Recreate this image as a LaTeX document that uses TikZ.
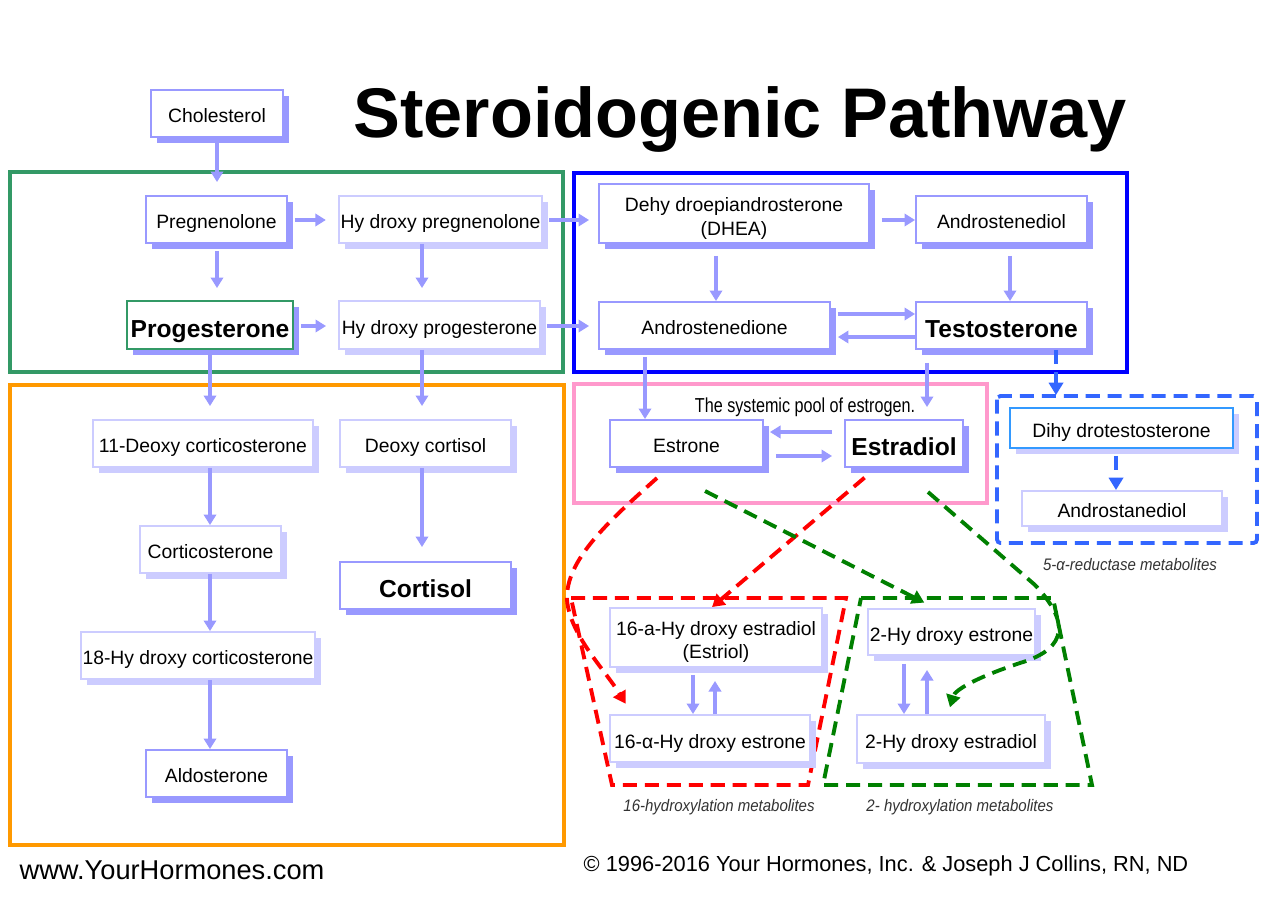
\documentclass[tikz,border=0pt]{standalone}
\usepackage{fontspec}
\usepackage{graphicx}
\setmainfont{Liberation Sans}
\usetikzlibrary{arrows.meta,shadows}
\definecolor{boxdark}{HTML}{9999FF}
\definecolor{boxlight}{HTML}{CCCCFF}
\definecolor{flowc}{HTML}{9999FF}
\definecolor{greenframe}{HTML}{339966}
\definecolor{blueframe}{HTML}{0000FF}
\definecolor{orangeframe}{HTML}{FF9900}
\definecolor{pinkframe}{HTML}{FF99CC}
\definecolor{redline}{HTML}{FF0000}
\definecolor{greenline}{HTML}{008000}
\definecolor{blueline}{HTML}{3366FF}
\definecolor{dhtline}{HTML}{3399FF}

\begin{document}
\begin{tikzpicture}[x=0.02cm,y=-0.02cm,
  basebox/.style={line width=1.1pt, fill=white, inner sep=1pt,
    font=\fontsize{11}{14}\selectfont, align=center},
  oneline/.style={text height=10.8pt, text depth=0pt},
  darkbox/.style={basebox, draw=boxdark,
    drop shadow={shadow xshift=0.12cm, shadow yshift=-0.12cm, fill=boxdark, opacity=1}},
  lightbox/.style={basebox, draw=boxlight,
    drop shadow={shadow xshift=0.12cm, shadow yshift=-0.12cm, fill=boxlight, opacity=1}},
  boldtext/.style={font=\fontsize{14}{16}\selectfont\bfseries, text height=13.7pt, text depth=0pt},
  flow/.style={draw=flowc, line width=2.3pt, -{Triangle[length=6pt,width=7pt]}},
  frame/.style={line width=1.8pt},
  dashtip/.style={-{Triangle[length=7pt,width=8pt]}},
  reddash/.style={draw=redline, line width=2.2pt, dash pattern=on 8pt off 4.5pt},
  greendash/.style={draw=greenline, line width=2.2pt, dash pattern=on 8pt off 4.5pt},
  bluedash/.style={draw=blueline, line width=2.2pt, dash pattern=on 8pt off 4.5pt},
  caption/.style={font=\fontsize{9.5}{11}\selectfont\itshape, text=black!80}]
  \useasboundingbox[fill=white] (0,0) rectangle (1277,899);
  %draw title
  \node (title) at (740,119) {\fontsize{40}{48}\selectfont\bfseries Steroidogenic Pathway};
  %draw group frames
  \draw[frame, greenframe] (10,172) rectangle (563,372);
  \draw[frame, blueframe, line width=2.3pt] (574,173) rectangle (1127,372);
  \draw[frame, orangeframe] (10,385) rectangle (564,845);
  \draw[frame, pinkframe] (574,384) rectangle (987,503);
  \draw[bluedash, rounded corners=2pt] (997,396) rectangle (1257,543);
  \draw[reddash] (571,598) -- (846,598) -- (808,785) -- (612,785) -- cycle;
  \draw[greendash] (861,598) -- (1053,598) -- (1092,785) -- (823,785) -- cycle;
  %draw top rows
  \node[darkbox, oneline, minimum width=2.64cm, minimum height=0.94cm] (chol) at (217,113.5) {Cholesterol};
  \node[darkbox, oneline, minimum width=2.82cm, minimum height=0.94cm] (preg) at (216.5,219.5) {Pregnenolone};
  \node[lightbox, oneline, minimum width=4.06cm, minimum height=0.94cm] (hpreg) at (440.5,219.5) {Hy droxy pregnenolone};
  \node[darkbox, draw=greenframe, boldtext, minimum width=3.32cm, minimum height=0.96cm] (prog) at (210,325) {Progesterone};
  \node[lightbox, oneline, minimum width=4.02cm, minimum height=0.96cm] (hprog) at (439.5,325) {Hy droxy progesterone};
  \node[darkbox, minimum width=5.4cm, minimum height=1.18cm] (dhea) at (734,213.5) {\rule{0pt}{13.5pt}Dehy droepiandrosterone\\(DHEA)};
  \node[darkbox, oneline, minimum width=3.42cm, minimum height=0.94cm] (adiol) at (1001.5,219.5) {Androstenediol};
  \node[darkbox, oneline, minimum width=4.62cm, minimum height=0.94cm] (adione) at (714.5,325.5) {Androstenedione};
  \node[darkbox, boldtext, minimum width=3.42cm, minimum height=0.94cm] (testo) at (1001.5,325.5) {Testosterone};
  %draw estrogen pool
  \node (pooltext) at (805,407) {\fontsize{11.5}{13}\selectfont\scalebox{0.8}[1]{The systemic pool of estrogen.}};
  \node[darkbox, oneline, minimum width=3.06cm, minimum height=0.94cm] (estrone) at (686.5,443.5) {Estrone};
  \node[darkbox, boldtext, minimum width=2.36cm, minimum height=0.94cm] (estradiol) at (904,443.5) {Estradiol};
  %draw 5-alpha-reductase metabolites
  \node[lightbox, oneline, draw=dhtline, minimum width=4.46cm, minimum height=0.8cm] (dht) at (1121.5,428) {Dihy drotestosterone};
  \node[lightbox, oneline, minimum width=4.0cm, minimum height=0.7cm] (astane) at (1122,508.5) {Androstanediol};
  \node[caption] (cap5a) at (1130,565) {\scalebox{0.9}[1]{5-α-reductase metabolites}};
  %draw hydroxylation metabolites
  \node[lightbox, minimum width=4.24cm, minimum height=1.18cm, font=\fontsize{11}{13}\selectfont] (ohestriol) at (716,637.5) {\rule{0pt}{13pt}16-a-Hy droxy estradiol\\(Estriol)};
  \node[lightbox, oneline, minimum width=4.0cm, minimum height=0.94cm] (ohestrone16) at (710,738.5) {16-α-Hy droxy estrone};
  \node[lightbox, oneline, minimum width=3.3cm, minimum height=0.92cm] (ohestrone2) at (951.5,632) {2-Hy droxy estrone};
  \node[lightbox, oneline, minimum width=3.76cm, minimum height=0.96cm] (ohestradiol2) at (951,739) {2-Hy droxy estradiol};
  \node[caption] (cap16) at (719,807) {\scalebox{0.9}[1]{16-hydroxylation metabolites}};
  \node[caption] (cap2) at (960,807) {\scalebox{0.9}[1]{2- hydroxylation metabolites}};
  %draw corticoids
  \node[lightbox, oneline, minimum width=4.4cm, minimum height=0.94cm] (docort) at (203,443.5) {11-Deoxy corticosterone};
  \node[lightbox, oneline, minimum width=3.42cm, minimum height=0.94cm] (dcortisol) at (425.5,443.5) {Deoxy cortisol};
  \node[lightbox, oneline, minimum width=2.82cm, minimum height=0.94cm] (cortico) at (210.5,549.5) {Corticosterone};
  \node[darkbox, boldtext, minimum width=3.42cm, minimum height=0.94cm] (cortisol) at (425.5,585.5) {Cortisol};
  \node[lightbox, oneline, minimum width=4.68cm, minimum height=0.94cm] (ohcortico) at (198,655.5) {18-Hy droxy corticosterone};
  \node[darkbox, oneline, minimum width=2.82cm, minimum height=0.94cm] (aldo) at (216.5,773.5) {Aldosterone};
  %draw solid arrows
  \draw[flow, shorten >=0.26cm] (chol.south -| 217,0) -- (preg.north -| 217,0);
  \draw[flow, shorten <=0.14cm, shorten >=0.24cm] (preg.east |- 0,220) -- (hpreg.west |- 0,220);
  \draw[flow, shorten <=0.14cm, shorten >=0.24cm] (preg.south -| 217,0) -- (prog.north -| 217,0);
  \draw[flow, shorten >=0.24cm] (hpreg.south -| 422,0) -- (hprog.north -| 422,0);
  \draw[flow, shorten <=0.14cm, shorten >=0.24cm] (prog.east |- 0,326) -- (hprog.west |- 0,326);
  \draw[flow, shorten <=0.12cm, shorten >=0.18cm] (hpreg.east |- 0,220) -- (dhea.west |- 0,220);
  \draw[flow, shorten <=0.12cm, shorten >=0.18cm] (hprog.east |- 0,326) -- (adione.west |- 0,326);
  \draw[flow, shorten <=0.24cm] (dhea.east |- 0,220) -- (adiol.west |- 0,220);
  \draw[flow, shorten <=0.24cm] (dhea.south -| 716,0) -- (adione.north -| 716,0);
  \draw[flow, shorten <=0.24cm] (adiol.south -| 1010,0) -- (testo.north -| 1010,0);
  \draw[flow, shorten <=0.14cm] (adione.east |- 0,314) -- (testo.west |- 0,314);
  \draw[flow, shorten >=0.14cm] (testo.west |- 0,337) -- (adione.east |- 0,337);
  \draw[flow, shorten <=0.14cm] (adione.south -| 645,0) -- (estrone.north -| 645,0);
  \draw[flow, shorten <=0.26cm, shorten >=0.24cm] (testo.south -| 927,0) -- (estradiol.north -| 927,0);
  \draw[flow, shorten <=0.24cm, shorten >=0.12cm] (estradiol.west |- 0,432) -- (estrone.east |- 0,432);
  \draw[flow, shorten <=0.24cm, shorten >=0.24cm] (estrone.east |- 0,456) -- (estradiol.west |- 0,456);
  \draw[flow, shorten <=0.14cm] (ohestriol.south -| 693,0) -- (ohestrone16.north -| 693,0);
  \draw[flow, shorten >=0.26cm] (ohestrone16.north -| 715,0) -- (ohestriol.south -| 715,0);
  \draw[flow, shorten <=0.16cm] (ohestrone2.south -| 904,0) -- (ohestradiol2.north -| 904,0);
  \draw[flow, shorten >=0.28cm] (ohestradiol2.north -| 927,0) -- (ohestrone2.south -| 927,0);
  \draw[flow, shorten >=0.26cm] (prog.south -| 210,0) -- (docort.north -| 210,0);
  \draw[flow, shorten >=0.26cm] (hprog.south -| 422,0) -- (dcortisol.north -| 422,0);
  \draw[flow] (docort.south -| 210,0) -- (cortico.north -| 210,0);
  \draw[flow] (cortico.south -| 210,0) -- (ohcortico.north -| 210,0);
  \draw[flow] (ohcortico.south -| 210,0) -- (aldo.north -| 210,0);
  \draw[flow, shorten >=0.28cm] (dcortisol.south -| 422,0) -- (cortisol.north -| 422,0);
  %draw dashed arrows
  \draw[bluedash, dashtip, shorten >=0.24cm] (testo.south -| 1056,0) -- (dht.north -| 1056,0);
  \draw[bluedash, dashtip, shorten <=0.14cm] (dht.south -| 1116,0) -- (astane.north -| 1116,0);
  \coordinate (redout1) at (657,478);
  \coordinate (greenout1) at (705,491);
  \coordinate (greenout2) at (928,492);
  \draw[reddash, dashtip, shorten >=0.24cm] (redout1) .. controls (610,520) and (565,560) .. (567,600)
    .. controls (570,635) and (605,670) .. (ohestrone16.north -| 632,0);
  \draw[reddash, dashtip, shorten <=0.3cm] (estradiol.south -| 876,0) -- (ohestriol.north -| 712,0);
  \draw[greendash, dashtip, shorten >=0.24cm] (greenout1) -- (ohestrone2.north -| 935,0);
  \draw[greendash, dashtip, shorten >=0.14cm] (greenout2) -- (1035,585) .. controls (1068,620) and (1070,648) .. (1020,663)
    .. controls (975,678) and (955,690) .. (ohestradiol2.north -| 948,0);
  %draw footer
  \node (site) at (172,870) {\fontsize{15.5}{18}\selectfont www.YourHormones.com};
  \node (copyline) at (886,866) {\fontsize{12.4}{15}\selectfont © 1996-2016 Your Hormones, Inc. \& Joseph J Collins, RN, ND};
\end{tikzpicture}
\end{document}
